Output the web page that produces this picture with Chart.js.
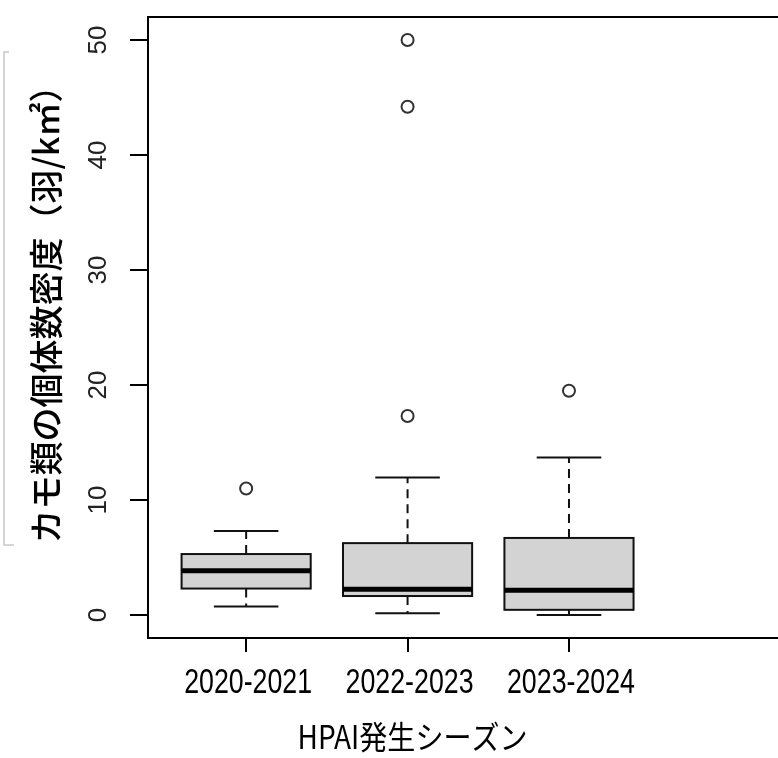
<!DOCTYPE html>
<html><head><meta charset="utf-8">
<script src="https://cdn.jsdelivr.net/npm/chart.js@4.4.1/dist/chart.umd.min.js"></script>
<style>html,body{margin:0;padding:0;background:#fff}</style>
</head><body>
<canvas id="c" width="778" height="758"></canvas>
<script>
// ---- data ----
const seasons = ['2020-2021', '2022-2023', '2023-2024'];
const lowerWhisker = [0.75, 0.15, 0.0];
const q1 = [2.3, 1.65, 0.45];
const median = [3.85, 2.25, 2.15];
const q3 = [5.3, 6.25, 6.7];
const upperWhisker = [7.3, 11.95, 13.7];
const outliers = [[11.0], [17.3, 44.2, 50.0], [19.5]];
const yTicks = [0, 10, 20, 30, 40, 50];
const yTitle = 'カモ類の個体数密度（羽/k㎡）';
const xTitle = 'HPAI発生シーズン';

const outlierPoints = [];
outliers.forEach((arr, i) => arr.forEach(v => outlierPoints.push({x: i + 1, y: v})));

// draw text horizontally condensed so it spans a given width
function condensedText(ctx, text, x, y, font, targetWidth) {
  ctx.save();
  ctx.font = font;
  const w = ctx.measureText(text).width;
  const sx = Math.min(1, targetWidth / w);
  ctx.translate(x, y);
  ctx.scale(sx, 1);
  ctx.textAlign = 'center';
  ctx.textBaseline = 'middle';
  ctx.fillStyle = '#000';
  ctx.fillText(text, 0, 0);
  ctx.restore();
}

const boxPlugin = {
  id: 'boxes',
  beforeDatasetsDraw(chart) {
    const ctx = chart.ctx, xs = chart.scales.x, ys = chart.scales.y;
    ctx.save();
    seasons.forEach((s, i) => {
      const cx = xs.getPixelForValue(i + 1);
      const bl = xs.getPixelForValue(i + 1 - 0.4), br = xs.getPixelForValue(i + 1 + 0.4);
      const cl = xs.getPixelForValue(i + 1 - 0.2), cr = xs.getPixelForValue(i + 1 + 0.2);
      const yq1 = ys.getPixelForValue(q1[i]), yq3 = ys.getPixelForValue(q3[i]);
      const ym = ys.getPixelForValue(median[i]);
      const ylo = ys.getPixelForValue(lowerWhisker[i]), yhi = ys.getPixelForValue(upperWhisker[i]);
      ctx.strokeStyle = '#111';
      ctx.lineWidth = 2;
      ctx.setLineDash([9, 6]);
      ctx.beginPath();
      ctx.moveTo(cx, yq3); ctx.lineTo(cx, yhi);
      ctx.moveTo(cx, yq1); ctx.lineTo(cx, ylo);
      ctx.stroke();
      ctx.setLineDash([]);
      ctx.beginPath();
      ctx.moveTo(cl, yhi); ctx.lineTo(cr, yhi);
      ctx.moveTo(cl, ylo); ctx.lineTo(cr, ylo);
      ctx.stroke();
      ctx.fillStyle = '#d3d3d3';
      ctx.fillRect(bl, yq3, br - bl, yq1 - yq3);
      ctx.strokeRect(bl, yq3, br - bl, yq1 - yq3);
      ctx.lineWidth = 5;
      ctx.strokeStyle = '#000';
      ctx.beginPath();
      ctx.moveTo(bl, ym); ctx.lineTo(br, ym);
      ctx.stroke();
    });
    ctx.restore();
  },
  afterDraw(chart) {
    const ctx = chart.ctx, a = chart.chartArea, W = chart.width, xs = chart.scales.x;
    ctx.save();
    ctx.strokeStyle = '#000';
    ctx.lineWidth = 2;
    ctx.beginPath();
    ctx.moveTo(W, a.top); ctx.lineTo(a.left, a.top); ctx.lineTo(a.left, a.bottom); ctx.lineTo(W, a.bottom);
    ctx.stroke();
    ctx.strokeStyle = '#c8c8c8';
    ctx.lineWidth = 1.5;
    ctx.beginPath();
    ctx.moveTo(9, 52); ctx.lineTo(4, 52); ctx.lineTo(4, 545); ctx.lineTo(14, 545);
    ctx.stroke();
    ctx.restore();

    // x tick labels (condensed gothic look)
    seasons.forEach((s, i) => {
      condensedText(ctx, s, xs.getPixelForValue(i + 1) + 2, 683, '35px "Liberation Sans", Arial', 128);
    });
    // x title
    condensedText(ctx, xTitle, (a.left + a.right) / 2 + 3, 737, '32px "Noto Sans CJK JP"', 230);

    // y title
    ctx.save();
    ctx.translate(46, 306);
    ctx.rotate(-Math.PI / 2);
    ctx.fillStyle = '#000';
    ctx.font = '500 34px "Noto Sans CJK JP"';
    ctx.textAlign = 'center';
    ctx.textBaseline = 'middle';
    ctx.fillText(yTitle, 0, 0);
    ctx.restore();
  }
};

new Chart(document.getElementById('c'), {
  type: 'scatter',
  data: {
    datasets: [{
      data: outlierPoints,
      pointRadius: 6,
      pointBorderWidth: 2,
      pointBorderColor: '#333',
      pointBackgroundColor: 'rgba(0,0,0,0)',
      showLine: false
    }]
  },
  options: {
    responsive: false,
    animation: false,
    layout: {autoPadding: false, padding: {top: 17, right: 107, left: 0, bottom: 0}},
    plugins: {legend: {display: false}, tooltip: {enabled: false}},
    scales: {
      x: {
        type: 'linear', min: 0.392, max: 3.632,
        afterBuildTicks: s => { s.ticks = seasons.map((_, i) => ({value: i + 1})); },
        afterFit: s => { s.height = 120; s.paddingLeft = 0; s.paddingRight = 0; },
        grid: {display: true, drawOnChartArea: false, drawTicks: true, tickLength: 14, color: '#000', lineWidth: 2},
        border: {display: false},
        ticks: {display: false}
      },
      y: {
        type: 'linear', min: -2, max: 52,
        afterBuildTicks: s => { s.ticks = yTicks.map(v => ({value: v})); },
        afterFit: s => { s.width = 148; s.paddingTop = 0; s.paddingBottom = 0; },
        grid: {display: true, drawOnChartArea: false, drawTicks: true, tickLength: 18, color: '#000', lineWidth: 2},
        border: {display: false},
        ticks: {
          font: {family: '"Liberation Sans", Arial', size: 26},
          color: '#222', padding: 17, crossAlign: 'center',
          minRotation: 90, maxRotation: 90
        }
      }
    }
  },
  plugins: [boxPlugin]
});
</script>
</body></html>
